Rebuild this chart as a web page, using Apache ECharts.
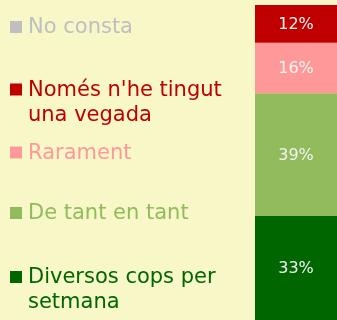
<!DOCTYPE html>
<html>
<head>
<meta charset="utf-8">
<script src="https://cdn.jsdelivr.net/npm/echarts@6/dist/echarts.min.js"></script>
<style>
  html, body { margin: 0; padding: 0; background: #F7F7C8; }
  #chart { width: 337px; height: 320px; }
</style>
</head>
<body>
<div id="chart"></div>
<script>
// Response categories, top of the legend first
const categories = ['No consta', "Només n'he tingut\nuna vegada", 'Rarament', 'De tant en tant', 'Diversos cops per\nsetmana'];
// Share of answers (%) for each category, same order
const values = [0, 12, 16, 39, 33];
const colors = ['#BFBFBF', '#C00000', '#FF9999', '#92BB5B', '#006600'];

// Vertical centre of each legend entry's first line
const legendY = [27, 89.5, 152.5, 213, 277];

const FONT = '"DejaVu Sans", Verdana, sans-serif';

// Stack from the bottom: last category sits at the base of the bar
const order = categories.map((_, i) => i).reverse();
const series = order.map(i => ({
  name: categories[i],
  type: 'bar',
  stack: 'total',
  barWidth: '100%',
  data: [values[i]],
  itemStyle: { color: colors[i] },
  label: {
    show: values[i] > 0,
    position: 'inside',
    formatter: '{c}%',
    color: '#F4F4F4',
    fontFamily: FONT,
    fontSize: 16,
    offset: [0, 1]
  }
}));

// Legend drawn as marker + text pairs, first text line centred on the marker
const legendGraphics = categories.map((name, i) => ({
  type: 'group',
  x: 10,
  y: legendY[i],
  children: [
    { type: 'rect', shape: { x: 0, y: -6, width: 12, height: 12 }, style: { fill: colors[i] } },
    {
      type: 'text',
      x: 18,
      y: -11.5,
      style: {
        text: name,
        fill: colors[i],
        font: '21px ' + FONT,
        lineHeight: 25,
        verticalAlign: 'top'
      }
    }
  ]
}));

const chart = echarts.init(document.getElementById('chart'), null, { renderer: 'canvas' });
chart.setOption({
  backgroundColor: '#F7F7C8',
  animation: false,
  grid: { left: 255, right: 0, top: 5, bottom: -5, containLabel: false },
  xAxis: { type: 'category', data: [''], show: false },
  yAxis: { type: 'value', min: 0, max: 100, show: false },
  series: series,
  graphic: legendGraphics
});
</script>
</body>
</html>
